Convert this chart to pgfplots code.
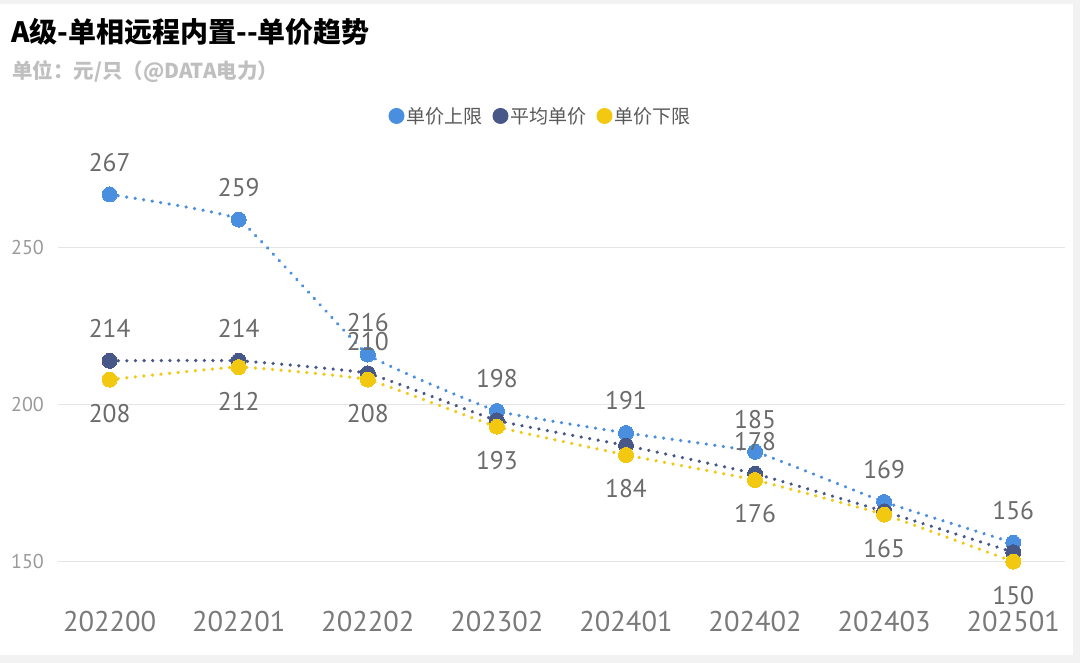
\documentclass[border=0pt]{standalone}
\usepackage{fontspec}
\usepackage{pgfplots}
\pgfplotsset{compat=1.18}
\setmainfont{PT Sans}
\newfontfamily\cjk{Noto Sans CJK SC}
\definecolor{cup}{HTML}{4A8FDF}
\definecolor{cavg}{HTML}{475787}
\definecolor{clow}{HTML}{F2C811}
\definecolor{lbl}{HTML}{6B6B6B}
\definecolor{tick}{HTML}{7A7A7A}
\definecolor{ytick}{HTML}{9A9A9A}
\begin{document}
\begin{tikzpicture}
\fill[black!5] (0pt,0pt) rectangle (1080pt,663pt);
\fill[white] (0pt,8pt) rectangle (1073pt,659pt);
\useasboundingbox (0pt,0pt) rectangle (1080pt,663pt);
\node[anchor=west, inner sep=0pt] at (11pt,631pt) {\cjk\bfseries\fontsize{28}{32}\selectfont A级-单相远程内置--单价趋势};
\node[anchor=west, inner sep=0pt, text=black!25] at (12pt,591pt) {\cjk\bfseries\fontsize{20.5}{24}\selectfont 单位：元/只（@DATA电力）};
\begin{axis}[
  at={(58pt,70pt)}, anchor=south west,
  scale only axis, width=1007pt, height=455pt,
  xmin=-0.4, xmax=7.4, ymin=140, ymax=285,
  axis line style={draw=none},
  tick style={draw=none},
  xtick={0,...,7},
  xticklabels={202200,202201,202202,202302,202401,202402,202403,202501},
  ytick={150,200,250},
  ymajorgrids, grid style={color=black!10, line width=1pt},
  /pgf/number format/assume math mode=true,
  x tick label style={font=\fontsize{28.5}{32}\selectfont, text=tick, anchor=base, yshift=-39pt, inner sep=0pt},
  y tick label style={font=\fontsize{20}{24}\selectfont, text=ytick, anchor=east, xshift=-14pt, inner sep=0pt},
  point meta=explicit symbolic,
  nodes near coords,
  every node near coord/.append style={font=\fontsize{25.5}{30}\selectfont, text=lbl, anchor=center, inner sep=0pt},
  legend style={at={(0.4787,1.0484)}, anchor=center, draw=none, fill=none,
    legend columns=3, font=\cjk\fontsize{19}{22}\selectfont, text=black!65,
    /tikz/every even column/.append style={column sep=9pt},
    /tikz/every odd column/.append style={column sep=0pt},
    nodes={inner sep=1.5pt}},
  legend image code/.code={\fill[#1, draw=none] (3pt,0pt) circle (8pt);},
  every axis plot/.append style={smooth, tension=0.18, line width=3.6pt, line cap=round, dash pattern=on 0.01pt off 8.6pt},
]
\addplot[color=cup, mark=*, mark size=7.5pt, mark options={solid, fill=cup, draw=cup, line width=0pt},
  every node near coord/.append style={yshift=32pt}]
  table[meta=l] {
x y l
0 267 267
1 259 259
2 216 216
3 198 198
4 191 191
5 185 185
6 169 169
7 156 156
};
\addlegendentry{单价上限}
\addplot[color=cavg, mark=*, mark size=7.5pt, mark options={solid, fill=cavg, draw=cavg, line width=0pt},
  every node near coord/.append style={yshift=32pt}]
  table[meta=l] {
x y l
0 214 214
1 214 214
2 210 210
3 195 {}
4 187 {}
5 178 178
6 166 {}
7 153 {}
};
\addlegendentry{平均单价}
\addplot[color=clow, mark=*, mark size=7.5pt, mark options={solid, fill=clow, draw=clow, line width=0pt},
  every node near coord/.append style={yshift=-34pt}]
  table[meta=l] {
x y l
0 208 208
1 212 212
2 208 208
3 193 193
4 184 184
5 176 176
6 165 165
7 150 150
};
\addlegendentry{单价下限}
\end{axis}
\end{tikzpicture}
\end{document}
